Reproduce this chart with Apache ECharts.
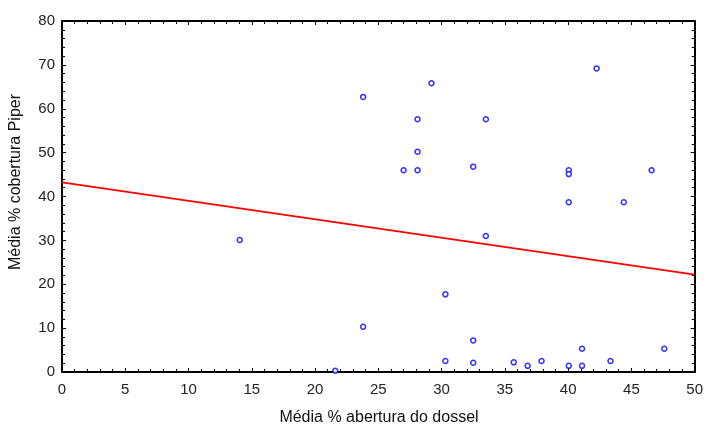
<!DOCTYPE html>
<html>
<head>
<meta charset="utf-8">
<script src="https://cdn.jsdelivr.net/npm/echarts@6/dist/echarts.min.js"></script>
<style>html,body{margin:0;padding:0;background:#fff}#c{width:706px;height:426px}</style>
</head>
<body>
<div id="c"></div>
<script>
const xTitle = "Média % abertura do dossel";
const yTitle = "Média % cobertura Piper";
const aberturaX = [14.05, 21.6, 23.8, 23.8, 27.0, 28.1, 28.1, 28.1, 29.2, 32.5, 33.5, 33.5, 30.3, 30.3, 32.5, 32.5, 35.7, 36.8, 37.9, 40.05, 41.1, 41.1, 43.35, 47.6, 40.05, 40.05, 40.05, 44.4, 46.6, 42.25];
const coberturaY = [30.1, 0.3, 62.7, 10.3, 46.0, 46.0, 50.2, 57.6, 65.8, 46.8, 57.6, 31.0, 17.7, 2.5, 7.2, 2.1, 2.2, 1.4, 2.5, 1.4, 1.4, 5.3, 2.5, 5.3, 46.0, 45.1, 38.7, 38.7, 46.0, 69.2];
const fitX = [0, 50];
const fitY = [43.2, 22.2];

const points = aberturaX.map((x, i) => [x, coberturaY[i]]);
const fitLine = fitX.map((x, i) => [x, fitY[i]]);

const font = 'Liberation Sans, Arial, sans-serif';
const chart = echarts.init(document.getElementById('c'), null, {renderer: 'canvas'});

function xAx(pos, showLabel) {
  return {
    type: 'value', position: pos, min: 0, max: 50, interval: 5,
    axisLine: {show: true, onZero: false, lineStyle: {color: '#000', width: 2}},
    axisTick: {show: true, inside: true, length: 4, lineStyle: {color: '#000'}},
    minorTick: {show: true, splitNumber: 5, length: 3, lineStyle: {color: '#000'}},
    axisLabel: {show: showLabel, color: '#222', fontSize: 15, fontFamily: font, margin: 10},
    splitLine: {show: false}
  };
}
function yAx(pos, showLabel) {
  return {
    type: 'value', position: pos, min: 0, max: 80, interval: 10,
    axisLine: {show: true, onZero: false, lineStyle: {color: '#000', width: 2}},
    axisTick: {show: true, inside: true, length: 4, lineStyle: {color: '#000'}},
    minorTick: {show: true, splitNumber: 5, length: 3, lineStyle: {color: '#000'}},
    axisLabel: {show: showLabel, color: '#222', fontSize: 15, fontFamily: font, margin: 7},
    splitLine: {show: false}
  };
}

chart.setOption({
  animation: false,
  backgroundColor: '#fff',
  grid: {left: 62, right: 11, top: 21, bottom: 54},
  xAxis: [xAx('bottom', true), xAx('top', false)],
  yAxis: [yAx('left', true), yAx('right', false)],
  graphic: [
    {type: 'text', style: {text: xTitle, font: '16px ' + font, fill: '#111', textAlign: 'center', textVerticalAlign: 'middle'}, position: [379, 418]},
    {type: 'text', style: {text: yTitle, font: '16px ' + font, fill: '#111', textAlign: 'center', textVerticalAlign: 'middle'}, position: [16, 182], rotation: Math.PI / 2}
  ],
  series: [
    {
      type: 'line', data: fitLine, xAxisIndex: 0, yAxisIndex: 0,
      symbol: 'none', lineStyle: {color: '#ff0000', width: 1.8}, z: 2
    },
    {
      type: 'scatter', data: points, xAxisIndex: 0, yAxisIndex: 0,
      symbol: 'circle', symbolSize: 5,
      itemStyle: {color: '#fff', borderColor: '#0000ff', borderWidth: 1.5}, z: 3
    }
  ]
});
</script>
</body>
</html>
